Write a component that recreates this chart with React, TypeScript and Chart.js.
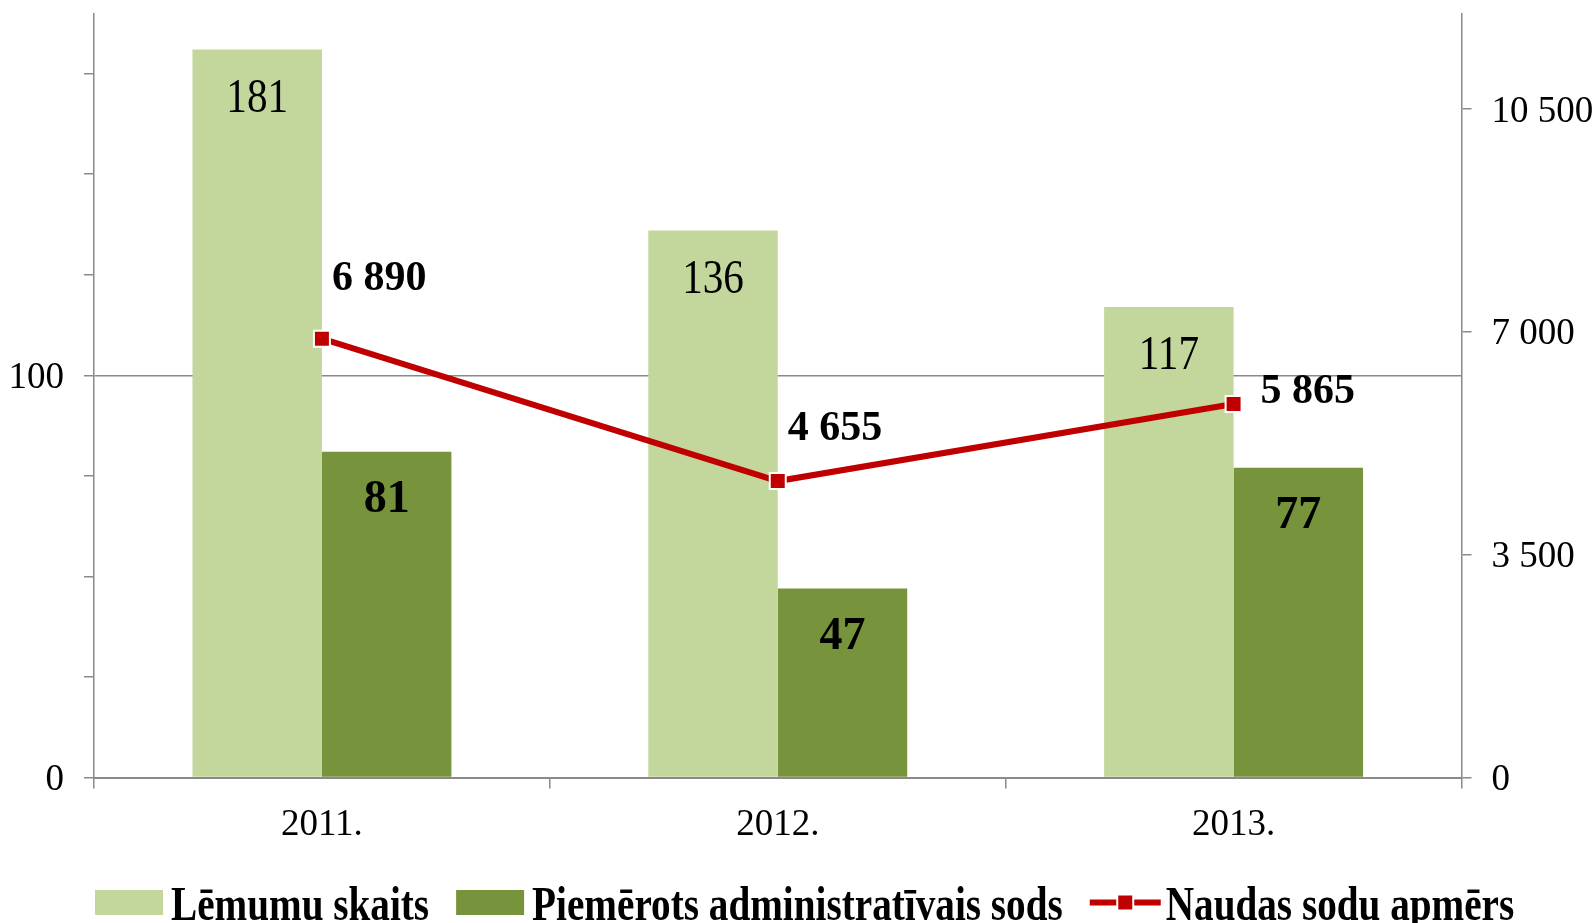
import React, { useEffect, useRef } from 'react';
import { Chart, registerables } from 'chart.js';

Chart.register(...registerables);

// ---- data ----
const CATEGORIES = ['2011.', '2012.', '2013.'];
const DECISIONS = [181, 136, 117];
const PENALTIES = [81, 47, 77];
const FINES = [6890, 4655, 5865];
const SERIES_NAMES = ['Lēmumu skaits', 'Piemērots administratīvais sods', 'Naudas sodu apmērs'];
const LEFT_TICKS = [0, 25, 50, 75, 100, 125, 150, 175];
const LEFT_LABELED_TICKS = [0, 100];
const RIGHT_TICKS = [0, 3500, 7000, 10500];

// ---- style ----
const FONT = "'Liberation Serif', 'Times New Roman', serif";
const GRAY = '#8a8a8a';
const LIGHT = '#C3D69B';
const DARK = '#77933C';
const RED = '#C00000';
const LINE_LABEL_OFFSETS: [number, number][] = [[10, -63], [10, -55], [27, -15]];

const fmt = (v: number) => String(Math.round(v)).replace(/\B(?=(\d{3})+(?!\d))/g, '\u00a0');

function drawText(
  ctx: CanvasRenderingContext2D,
  text: string,
  x: number,
  centerY: number,
  size: number,
  bold: boolean,
  align: CanvasTextAlign,
  sx = 1
) {
  ctx.save();
  ctx.font = `${bold ? 'bold ' : ''}${size}px ${FONT}`;
  ctx.fillStyle = '#000';
  ctx.textAlign = align;
  ctx.textBaseline = 'alphabetic';
  ctx.translate(x, centerY + size * 0.338);
  ctx.scale(sx, 1);
  ctx.fillText(text, 0, 0);
  ctx.restore();
}

const labelsPlugin = {
  id: 'valueLabels',
  afterDatasetsDraw(chart: any) {
    const ctx = chart.ctx as CanvasRenderingContext2D;
    const m0 = chart.getDatasetMeta(1);
    const m1 = chart.getDatasetMeta(2);
    const ml = chart.getDatasetMeta(0);
    m0.data.forEach((el: any, i: number) => {
      drawText(ctx, String(DECISIONS[i]), el.x, el.y + 46, 49, false, 'center', 0.84);
    });
    m1.data.forEach((el: any, i: number) => {
      drawText(ctx, String(PENALTIES[i]), el.x, el.y + 45, 46, true, 'center', 1);
    });
    ml.data.forEach((el: any, i: number) => {
      const [dx, dy] = LINE_LABEL_OFFSETS[i];
      drawText(ctx, fmt(FINES[i]), el.x + dx, el.y + dy, 42, true, 'left', 1);
    });
  },
};

const legendPlugin = {
  id: 'customLegend',
  afterDraw(chart: any) {
    const ctx = chart.ctx as CanvasRenderingContext2D;
    const size = 49;
    const sx = 0.8;
    const baseline = chart.height - 3;
    const cy = chart.height - 20.5;
    let x = chart.chartArea.left + 1;
    ctx.save();
    ctx.font = `bold ${size}px ${FONT}`;
    const kinds = ['box', 'box', 'line'];
    const colors = [LIGHT, DARK, RED];
    SERIES_NAMES.forEach((name, i) => {
      if (kinds[i] === 'box') {
        ctx.fillStyle = colors[i];
        ctx.fillRect(x, cy - 12.5, 68, 25);
        x += 68 + 8;
      } else {
        ctx.strokeStyle = RED;
        ctx.lineWidth = 6;
        ctx.beginPath();
        ctx.moveTo(x, cy);
        ctx.lineTo(x + 71, cy);
        ctx.stroke();
        const cx = x + 35.5;
        ctx.fillStyle = RED;
        ctx.fillRect(cx - 8, cy - 8, 16, 16);
        ctx.strokeStyle = '#fff';
        ctx.lineWidth = 2;
        ctx.strokeRect(cx - 8, cy - 8, 16, 16);
        x += 71 + 5;
      }
      const w = ctx.measureText(name).width * sx;
      ctx.save();
      ctx.fillStyle = '#000';
      ctx.textAlign = 'left';
      ctx.textBaseline = 'alphabetic';
      ctx.translate(x, baseline);
      ctx.scale(sx, 1);
      ctx.fillText(name, 0, 0);
      ctx.restore();
      x += w + 27;
    });
    ctx.restore();
  },
};

export default function App() {
  const ref = useRef<HTMLCanvasElement | null>(null);

  useEffect(() => {
    document.body.style.margin = '0';
    if (!ref.current) return;
    const tickFont = { family: FONT, size: 37 };
    const chart = new Chart(ref.current, {
      type: 'bar',
      data: {
        labels: CATEGORIES,
        datasets: [
          {
            type: 'line',
            label: SERIES_NAMES[2],
            data: FINES,
            yAxisID: 'y1',
            order: 0,
            borderColor: RED,
            borderWidth: 6,
            pointStyle: 'rect',
            pointRadius: 11.3,
            pointHoverRadius: 11.3,
            pointBackgroundColor: RED,
            pointBorderColor: '#ffffff',
            pointBorderWidth: 2,
            tension: 0,
          } as any,
          {
            type: 'bar',
            label: SERIES_NAMES[0],
            data: DECISIONS,
            yAxisID: 'y',
            order: 1,
            backgroundColor: LIGHT,
            barPercentage: 1,
            categoryPercentage: 0.568,
          },
          {
            type: 'bar',
            label: SERIES_NAMES[1],
            data: PENALTIES,
            yAxisID: 'y',
            order: 1,
            backgroundColor: DARK,
            barPercentage: 1,
            categoryPercentage: 0.568,
          },
        ],
      },
      options: {
        animation: false,
        responsive: true,
        maintainAspectRatio: false,
        layout: { padding: { top: 13, left: 0, right: 0, bottom: 0 } },
        plugins: {
          legend: { display: false },
          tooltip: { enabled: false },
        },
        scales: {
          x: {
            offset: true,
            grid: {
              offset: true,
              drawOnChartArea: false,
              tickLength: 11,
              color: GRAY,
              lineWidth: 1.5,
            },
            border: { color: GRAY, width: 2 },
            ticks: { color: '#000', font: tickFont, padding: 15, maxRotation: 0 },
            afterFit: (s: any) => {
              s.height = 145.5;
              s.paddingLeft = 0;
              s.paddingRight = 0;
            },
          },
          y: {
            position: 'left',
            min: 0,
            max: 190,
            afterBuildTicks: (s: any) => {
              s.ticks = LEFT_TICKS.map((v) => ({ value: v }));
            },
            afterFit: (s: any) => {
              s.width = 94;
              s.paddingTop = 0;
              s.paddingBottom = 0;
            },
            ticks: {
              autoSkip: false,
              padding: 20,
              labelOffset: 3,
              color: '#000',
              font: tickFont,
              callback: (v: any) => (LEFT_LABELED_TICKS.includes(Number(v)) ? String(v) : ''),
            },
            grid: {
              drawOnChartArea: true,
              color: (c: any) =>
                c.tick && LEFT_LABELED_TICKS.includes(c.tick.value) ? GRAY : 'rgba(0,0,0,0)',
              tickColor: GRAY,
              tickLength: 10,
              lineWidth: 1.5,
            },
            border: { color: GRAY, width: 1.5 },
          },
          y1: {
            position: 'right',
            min: 0,
            max: 12000,
            afterBuildTicks: (s: any) => {
              s.ticks = RIGHT_TICKS.map((v) => ({ value: v }));
            },
            afterFit: (s: any) => {
              s.width = 132.5;
              s.paddingTop = 0;
              s.paddingBottom = 0;
            },
            ticks: {
              autoSkip: false,
              padding: 20,
              labelOffset: 3,
              color: '#000',
              font: tickFont,
              callback: (v: any) => fmt(Number(v)),
            },
            grid: {
              drawOnChartArea: false,
              color: GRAY,
              tickLength: 10,
              lineWidth: 1.5,
            },
            border: { color: GRAY, width: 1.5 },
          },
        },
      },
      plugins: [labelsPlugin, legendPlugin],
    });
    return () => chart.destroy();
  }, []);

  return (
    <div style={{ position: 'fixed', left: 0, top: 0, width: '100vw', height: '100vh', background: '#fff' }}>
      <canvas ref={ref} />
    </div>
  );
}
